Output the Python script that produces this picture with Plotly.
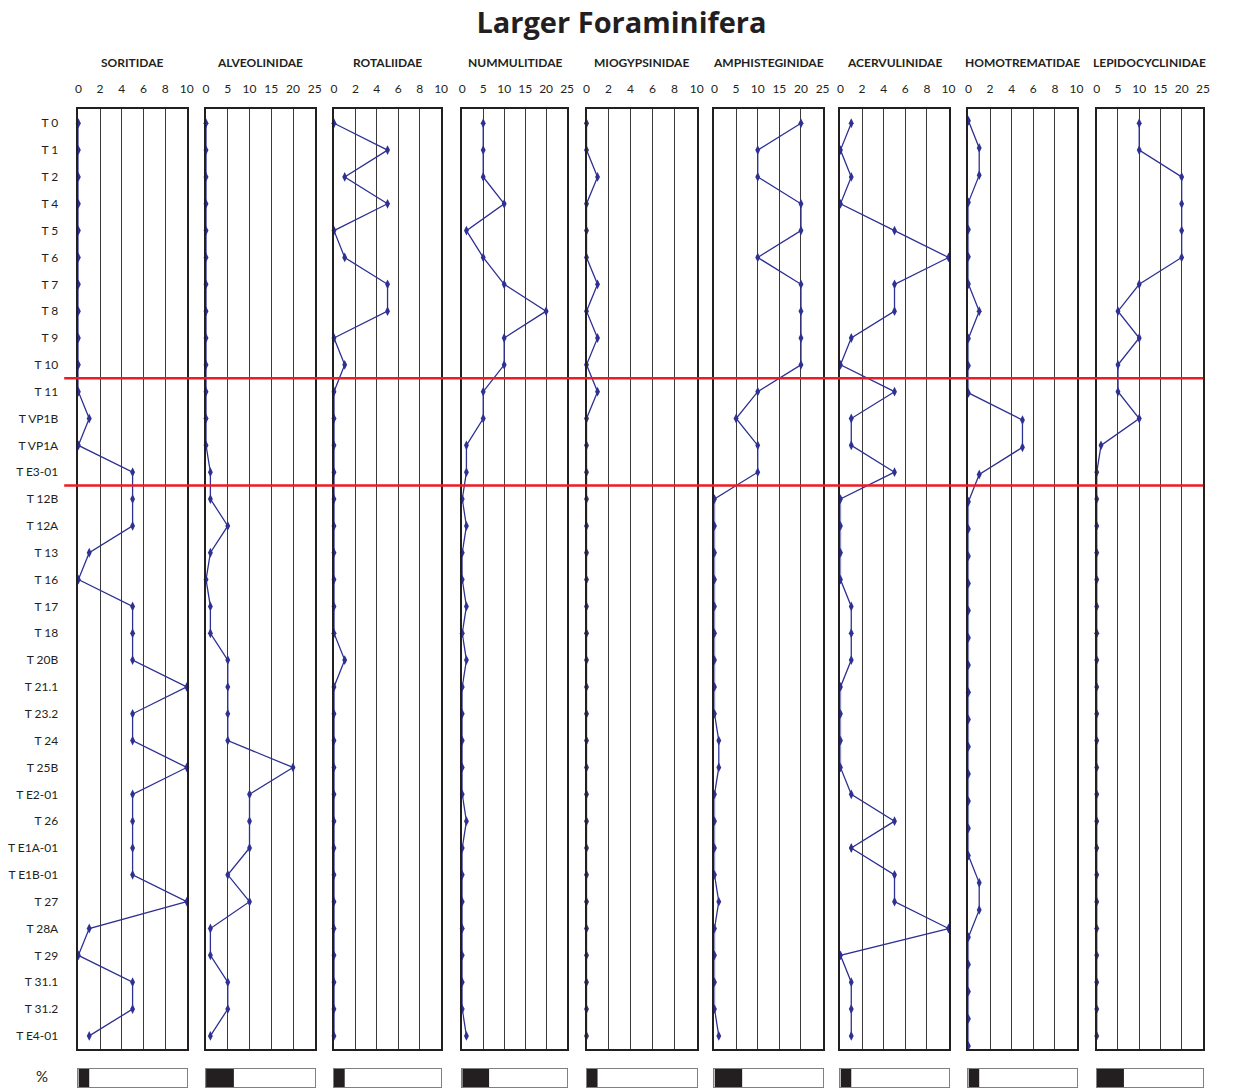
import plotly.graph_objects as go

W, H = 1233, 1088

samples = ["T 0", "T 1", "T 2", "T 4", "T 5", "T 6", "T 7", "T 8", "T 9", "T 10",
           "T 11", "T VP1B", "T VP1A", "T E3-01",
           "T 12B", "T 12A", "T 13", "T 16", "T 17", "T 18", "T 20B", "T 21.1",
           "T 23.2", "T 24", "T 25B", "T E2-01", "T 26", "T E1A-01", "T E1B-01",
           "T 27", "T 28A", "T 29", "T 31.1", "T 31.2", "T E4-01"]

families = ["SORITIDAE", "ALVEOLINIDAE", "ROTALIIDAE", "NUMMULITIDAE", "MIOGYPSINIDAE",
            "AMPHISTEGINIDAE", "ACERVULINIDAE", "HOMOTREMATIDAE", "LEPIDOCYCLINIDAE"]

soritidae = [0, 0, 0, 0, 0, 0, 0, 0, 0, 0,
             0, 1, 0, 5,
             5, 5, 1, 0, 5, 5, 5, 10, 5, 5, 10, 5, 5, 5, 5, 10, 1, 0, 5, 5, 1]
alveolinidae = [0, 0, 0, 0, 0, 0, 0, 0, 0, 0,
                0, 0, 0, 1,
                1, 5, 1, 0, 1, 1, 5, 5, 5, 5, 20, 10, 10, 10, 5, 10, 1, 1, 5, 5, 1]
rotaliidae = [0, 5, 1, 5, 0, 1, 5, 5, 0, 1,
              0, 0, 0, 0,
              0, 0, 0, 0, 0, 0, 1, 0, 0, 0, 0, 0, 0, 0, 0, 0, 0, 0, 0, 0, 0]
nummulitidae = [5, 5, 5, 10, 1, 5, 10, 20, 10, 10,
                5, 5, 1, 1,
                0, 1, 0, 0, 1, 0, 1, 0, 0, 0, 0, 0, 1, 0, 0, 0, 0, 0, 0, 0, 1]
miogypsinidae = [0, 0, 1, 0, 0, 0, 1, 0, 1, 0,
                 1, 0, 0, 0,
                 0, 0, 0, 0, 0, 0, 0, 0, 0, 0, 0, 0, 0, 0, 0, 0, 0, 0, 0, 0, 0]
amphisteginidae = [20, 10, 10, 20, 20, 10, 20, 20, 20, 20,
                   10, 5, 10, 10,
                   0, 0, 0, 0, 0, 0, 0, 0, 0, 1, 1, 0, 0, 0, 0, 1, 0, 0, 0, 0, 1]
acervulinidae = [1, 0, 1, 0, 5, 10, 5, 5, 1, 0,
                 5, 1, 1, 5,
                 0, 0, 0, 0, 1, 1, 1, 0, 0, 0, 0, 1, 5, 1, 5, 5, 10, 0, 1, 1, 1]
homotrematidae = [0, 1, 1, 0, 0, 0, 0, 1, 0, 0,
                  0, 5, 5, 1,
                  0, 0, 0, 0, 0, 0, 0, 0, 0, 0, 0, 0, 0, 0, 1, 1, 0, 0, 0, 0, 0]
lepidocyclinidae = [10, 10, 20, 20, 20, 20, 10, 5, 10, 5,
                    5, 10, 1, 0,
                    0, 0, 0, 0, 0, 0, 0, 0, 0, 0, 0, 0, 0, 0, 0, 0, 0, 0, 0, 0, 0]

series = [soritidae, alveolinidae, rotaliidae, nummulitidae, miogypsinidae,
          amphisteginidae, acervulinidae, homotrematidae, lepidocyclinidae]

# axis maxima and tick values per panel
axis_max = [10, 25, 10, 25, 10, 25, 10, 10, 25]
ticks10 = [0, 2, 4, 6, 8, 10]
ticks25 = [0, 5, 10, 15, 20, 25]

# "%" scale bar values (in panel units)
pct_bar = [1, 6.4, 1, 6.4, 1, 6.4, 1, 1, 6.4]

# boundaries between stratigraphic units (after sample index)
boundaries = [9.5, 13.5]

# ---- layout geometry (pixels) ----
left_px = [76, 204.7, 333.7, 463, 588.3, 717.3, 844.3, 973.3, 1102.7]
right_px = [185.3, 314.3, 441.7, 568.7, 699.3, 826.3, 953.3, 1082.3, 1209.7]
top_px, bot_px = 109.3, 1049.3
bar_top_px, bar_bot_px = 1069, 1088
# vertical category range per panel (the Homotrematidae column is drawn slightly stretched)
y_ranges = [[34.5, -0.52]] * 7 + [[34.12, -0.42]] + [[34.5, -0.52]]

INK = "#231f20"
BLUE = "#2e3192"
FONT = "Lato"

fig = go.Figure()
layout = dict(
    width=W, height=H, margin=dict(l=0, r=0, t=0, b=0),
    paper_bgcolor="white", plot_bgcolor="white", showlegend=False,
    font=dict(family=FONT, color=INK, size=12),
)
annotations = []
n = len(series)
for i in range(n):
    k = i + 1
    xs = "" if k == 1 else str(k)
    dom = [left_px[i] / W, right_px[i] / W]
    tv = ticks10 if axis_max[i] == 10 else ticks25
    fig.add_trace(go.Scatter(
        x=series[i], y=samples, mode="lines+markers",
        xaxis="x" + xs, yaxis="y" + xs,
        line=dict(color=BLUE, width=1.3),
        marker=dict(symbol="diamond-tall", size=7, color=BLUE),
        cliponaxis=False, hoverinfo="x+y",
    ))
    layout["xaxis" + xs] = dict(
        domain=dom, anchor="y" + xs, range=[0, axis_max[i]], side="top",
        tickvals=tv, ticks="", ticklabelstandoff=10,
        tickfont=dict(size=12, color=INK, family=FONT),
        showgrid=True, gridcolor="#3a3a3a", gridwidth=1, zeroline=False,
        showline=True, linecolor=INK, linewidth=1.5, mirror=True,
        fixedrange=True,
    )
    layout["yaxis" + xs] = dict(
        domain=[1 - bot_px / H, 1 - top_px / H], anchor="x" + xs,
        type="category", categoryorder="array", categoryarray=samples,
        range=y_ranges[i], showgrid=False, zeroline=False,
        showline=True, linecolor=INK, linewidth=1.5, mirror=True,
        showticklabels=(i == 0), ticks="", ticklabelstandoff=16,
        tickfont=dict(size=12, color=INK, family=FONT),
        fixedrange=True,
    )
    annotations.append(dict(
        text="<b>%s</b>" % families[i], x=(left_px[i] + right_px[i]) / 2 / W,
        y=1 - 62 / H, xref="paper", yref="paper", xanchor="center", yanchor="middle",
        showarrow=False, font=dict(size=12, color=INK, family=FONT),
    ))

    # percentage scale bar
    kb = k + n
    bs = str(kb)
    fig.add_trace(go.Bar(
        x=[pct_bar[i]], y=[0], base=0, orientation="h", width=1,
        xaxis="x" + bs, yaxis="y" + bs,
        marker=dict(color=INK, line=dict(width=0)), hoverinfo="x",
    ))
    layout["xaxis" + bs] = dict(
        domain=dom, anchor="y" + bs, range=[0, axis_max[i]],
        showticklabels=False, ticks="", showgrid=False, zeroline=False,
        showline=True, linecolor="#808080", linewidth=1.2, mirror=True,
        fixedrange=True,
    )
    layout["yaxis" + bs] = dict(
        domain=[1 - bar_bot_px / H + 0.0008, 1 - bar_top_px / H], anchor="x" + bs,
        range=[-0.5, 0.5], showticklabels=False, ticks="", showgrid=False,
        zeroline=False, showline=True, linecolor="#808080", linewidth=1.2,
        mirror=True, fixedrange=True,
    )

annotations.append(dict(
    text="%", x=39.5 / W, y=1 - 1076 / H, xref="paper", yref="paper",
    xanchor="center", yanchor="middle", showarrow=False,
    font=dict(size=15, color=INK, family=FONT),
))

shapes = []
for b in boundaries:
    shapes.append(dict(
        type="line", xref="paper", yref="y", x0=61.7 / W, x1=1210 / W, y0=b, y1=b,
        line=dict(color="#ed1c24", width=2.5), layer="above",
    ))

layout["annotations"] = annotations
layout["shapes"] = shapes
layout["title"] = dict(
    text="<b>Larger Foraminifera</b>", x=621.5 / W, xanchor="center",
    y=1 - 23 / H, yanchor="middle", yref="container",
    font=dict(size=29, color=INK, family="Open Sans"),
)
fig.update_layout(**layout)
fig.write_html("out.html")
